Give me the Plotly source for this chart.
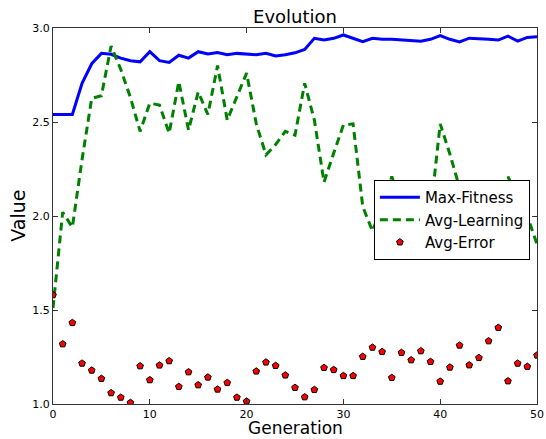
import plotly.graph_objects as go

generations = list(range(51))

max_fitness = [2.54, 2.54, 2.54, 2.706, 2.81, 2.865, 2.86, 2.84, 2.826, 2.82,
               2.874, 2.826, 2.817, 2.855, 2.84, 2.874, 2.862, 2.87, 2.858, 2.865,
               2.86, 2.858, 2.866, 2.851, 2.858, 2.868, 2.886, 2.945, 2.936, 2.945,
               2.963, 2.945, 2.927, 2.945, 2.94, 2.94, 2.936, 2.93, 2.93, 2.94,
               2.96, 2.94, 2.926, 2.946, 2.945, 2.94, 2.936, 2.957, 2.93, 2.95, 2.954]

avg_learning = [1.51, 2.02, 1.94, 2.30, 2.626, 2.64, 2.904, 2.78, 2.63, 2.45,
                2.60, 2.59, 2.44, 2.715, 2.457, 2.66, 2.54, 2.80, 2.51, 2.635,
                2.76, 2.49, 2.325, 2.38, 2.45, 2.43, 2.706, 2.51, 2.18, 2.335,
                2.484, 2.49, 2.05, 1.92, 2.05, 2.21, 2.05, 1.95, 1.90, 2.02,
                2.49, 2.33, 2.15, 2.18, 2.0, 1.9, 1.80, 2.21, 2.1, 2.0, 1.85]

avg_error = [1.58, 1.319, 1.432, 1.216, 1.179, 1.135, 1.059, 1.035, 1.007, 1.202,
             1.128, 1.206, 1.229, 1.092, 1.17, 1.101, 1.142, 1.078, 1.113, 1.035,
             1.014, 1.174, 1.222, 1.204, 1.153, 1.087, 1.037, 1.076, 1.193, 1.182,
             1.15, 1.15, 1.252, 1.301, 1.278, 1.14, 1.273, 1.234, 1.282, 1.225,
             1.12, 1.195, 1.312, 1.207, 1.246, 1.335, 1.406, 1.122, 1.216, 1.199, 1.259]

x_ticks = [0, 10, 20, 30, 40, 50]
y_ticks = [1.0, 1.5, 2.0, 2.5, 3.0]

FONT = "DejaVu Sans"
AX = "#333333"

fig = go.Figure()
fig.add_trace(go.Scatter(x=generations, y=max_fitness, mode="lines", name="Max-Fitness",
                         line=dict(color="#0000ff", width=3)))
fig.add_trace(go.Scatter(x=generations, y=avg_learning, mode="lines", name="Avg-Learning",
                         line=dict(color="#008000", width=3, dash="8px,5px")))
fig.add_trace(go.Scatter(x=generations, y=avg_error, mode="markers", name="Avg-Error",
                         marker=dict(symbol="pentagon", color="#ff0000", size=7,
                                     line=dict(color="black", width=1))))

axis_common = dict(showgrid=False, zeroline=False, showline=True, linecolor=AX, linewidth=1,
                   mirror="allticks", ticks="inside", ticklen=5, tickcolor=AX, tickwidth=1,
                   automargin=False,
                   tickfont=dict(family=FONT, size=11, color="black"))

fig.update_xaxes(range=[0, 50], tickvals=x_ticks, ticktext=[str(v) for v in x_ticks],
                 **axis_common)
fig.update_yaxes(range=[1, 3], tickvals=y_ticks, ticktext=[f"{v:.1f}" for v in y_ticks],
                 **axis_common)

fig.add_annotation(text="Generation", xref="paper", yref="paper", x=0.5, y=-0.0635,
                   xanchor="center", yanchor="middle", showarrow=False, borderpad=0,
                   font=dict(family=FONT, size=17, color="black"))
fig.add_annotation(text="Value", xref="paper", yref="paper", x=-0.073, y=0.5,
                   xanchor="center", yanchor="middle", textangle=-90, showarrow=False,
                   font=dict(family=FONT, size=19, color="black"))

fig.update_layout(
    width=546, height=439,
    margin=dict(l=53, r=9, t=28, b=35, autoexpand=False),
    paper_bgcolor="white", plot_bgcolor="white",
    font=dict(family=FONT, color="black"),
    title=dict(text="Evolution", font=dict(family=FONT, size=18, color="black"),
               x=0.5, xref="paper", xanchor="center",
               y=1.0, yref="paper", yanchor="bottom", pad=dict(b=5), automargin=False),
    legend=dict(x=0.663, y=0.596, xanchor="left", yanchor="top",
                bgcolor="white", bordercolor="black", borderwidth=1,
                font=dict(family=FONT, size=15, color="black"),
                tracegroupgap=0, itemwidth=40),
    showlegend=True,
)

fig.write_html("out.html", config={"displayModeBar": False},
               post_script="document.body.style.margin='0';document.body.style.padding='0';")
